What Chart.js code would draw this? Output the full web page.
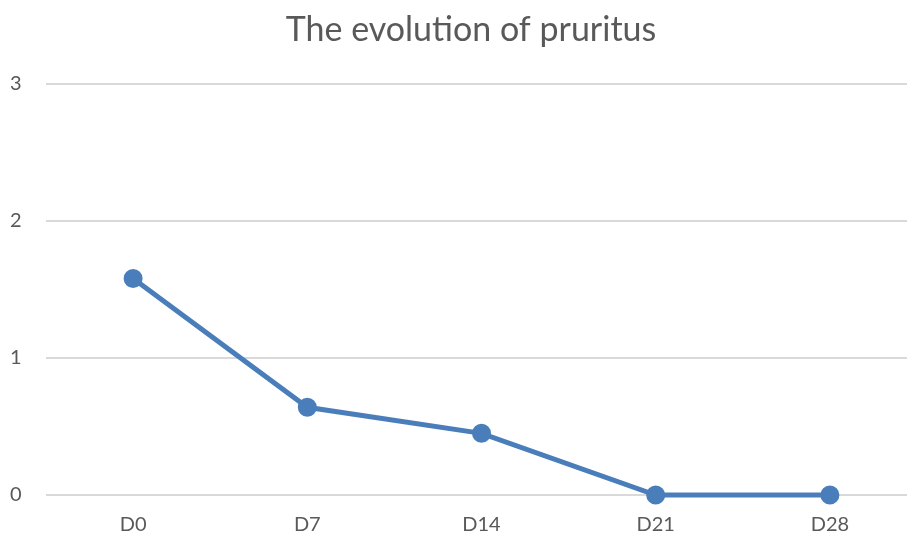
<!DOCTYPE html>
<html lang="en">
<head>
    <meta charset="UTF-8">
    <title>The evolution of pruritus</title>
    <script src="https://cdn.jsdelivr.net/npm/chart.js"></script>
    <style>
        html, body { margin: 0; padding: 0; background: #fff; overflow: hidden; }
        #wrap { width: 917px; height: 537px; }
    </style>
</head>
<body>
    <div id="wrap"><canvas id="pruritusChart" width="917" height="537"></canvas></div>

    <script>
        const days = ['D0', 'D7', 'D14', 'D21', 'D28'];
        const pruritus = [1.58, 0.64, 0.45, 0, 0];
        const yTicks = [0, 1, 2, 3];

        const textColor = '#595959';
        const fontFamily = 'Lato, "Open Sans", sans-serif';

        const ctx = document.getElementById('pruritusChart').getContext('2d');
        new Chart(ctx, {
            type: 'line',
            data: {
                labels: days,
                datasets: [{
                    label: 'Pruritus',
                    data: pruritus,
                    borderColor: '#4a7ebb',
                    backgroundColor: '#4a7ebb',
                    borderWidth: 5,
                    pointRadius: 7,
                    pointHoverRadius: 7,
                    clip: false,
                    tension: 0
                }]
            },
            options: {
                responsive: false,
                maintainAspectRatio: false,
                animation: false,
                layout: { autoPadding: false, padding: { left: 25, right: 0, top: 0, bottom: 0 } },
                plugins: {
                    legend: { display: false },
                    tooltip: { enabled: false },
                    title: {
                        display: true,
                        text: 'The evolution of pruritus',
                        color: textColor,
                        font: { family: fontFamily, size: 34, weight: 'normal', lineHeight: 1.2 },
                        padding: { top: 10, bottom: 33 }
                    }
                },
                scales: {
                    x: {
                        offset: true,
                        grid: { display: false },
                        border: { display: false },
                        ticks: {
                            color: textColor,
                            font: { family: fontFamily, size: 20 },
                            padding: 10
                        },
                        afterFit: (scale) => { scale.height = 42; }
                    },
                    y: {
                        min: 0,
                        max: 3,
                        afterBuildTicks: (scale) => {
                            scale.ticks = yTicks.map(v => ({ value: v }));
                        },
                        grid: { color: '#d9d9d9', lineWidth: 2, drawTicks: false },
                        border: { display: false },
                        ticks: {
                            color: textColor,
                            font: { family: fontFamily, size: 20 },
                            mirror: true,
                            padding: -36
                        },
                        afterFit: (scale) => { scale.width = 21; }
                    }
                }
            }
        });
    </script>
</body>
</html>
